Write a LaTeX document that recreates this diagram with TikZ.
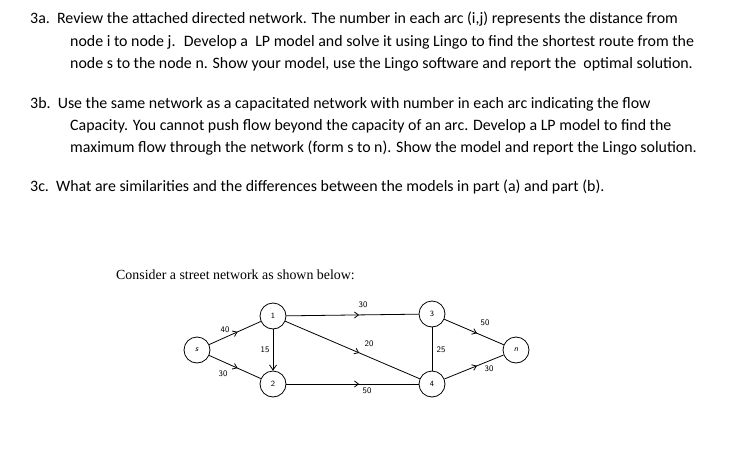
\documentclass[tikz,border=0pt]{standalone}
\usepackage{fontspec}
\setmainfont{Carlito}
\newfontfamily\tnr{Liberation Serif}
\usetikzlibrary{decorations.markings,arrows.meta}
\begin{document}
\begin{tikzpicture}[x=1pt,y=-1pt,
 ln/.style={anchor=base west,inner sep=0pt,font=\fontsize{15.9}{18}\selectfont},
 nd/.style={circle,draw,thick,minimum size=26pt,inner sep=0pt,font=\sffamily\fontsize{8}{9}\selectfont},
 ed/.style={thick,postaction={decorate},decoration={markings,mark=at position 0.55 with {\arrow{Straight Barb[length=4pt,width=6pt]}}}},
 lb/.style={font=\sffamily\fontsize{8.5}{9}\selectfont,inner sep=1pt}]
\useasboundingbox (0,0) rectangle (750,461);
\node[ln] (t1) at (30,23) {3a.\ \ Review the attached directed network. The number in each arc (i,j) represents the distance from};
\node[ln] (t2) at (70,46) {node i to node j. \ Develop a \ LP model and solve it using Lingo to find the shortest route from the};
\node[ln] (t3) at (70,68) {node s to the node n. Show your model, use the Lingo software and report the \ optimal solution.};
\node[ln] (t4) at (30,108) {3b.\ \ Use the same network as a capacitated network with number in each arc indicating the flow};
\node[ln] (t5) at (70,130) {Capacity. You cannot push flow beyond the capacity of an arc. Develop a LP model to find the};
\node[ln] (t6) at (70,152) {maximum flow through the network (form s to n). Show the model and report the Lingo solution.};
\node[ln] (t7) at (30,191) {3c.\ \ What are similarities and the differences between the models in part (a) and part (b).};
\node[anchor=base west,inner sep=0pt,font=\tnr\fontsize{13.9}{16}\selectfont] (c) at (116,279) {Consider a street network as shown below:};
\node[nd] (s) at (197,350) {\textit{s}};
\node[nd] (n1) at (273,316) {1};
\node[nd] (n2) at (273,384) {2};
\node[nd] (n3) at (432,314) {3};
\node[nd] (n4) at (432,384) {4};
\node[nd] (n) at (516,350) {\textit{n}};
\draw[ed] (s) -- (n1); \draw[ed] (s) -- (n2);
\draw[ed] (n1) -- (n3); \draw[ed] (n1) -- (n4);
\draw[thick,-{Straight Barb[length=5pt,width=7pt]}] (n1) -- (n2);
\draw[ed] (n2) -- (n4); \draw[thick] (n3) -- (n4);
\draw[ed] (n3) -- (n); \draw[ed] (n4) -- (n);
\node[lb] (l1) at (225,330) {40};
\node[lb] (l2) at (223,374) {30};
\node[lb] (l3) at (265,350) {15};
\node[lb] (l4) at (363,305) {30};
\node[lb] (l5) at (369,344) {20};
\node[lb] (l6) at (367,391) {50};
\node[lb] (l7) at (441,350) {25};
\node[lb] (l8) at (485,323) {50};
\node[lb] (l9) at (489,369) {30};
\end{tikzpicture}
\end{document}
